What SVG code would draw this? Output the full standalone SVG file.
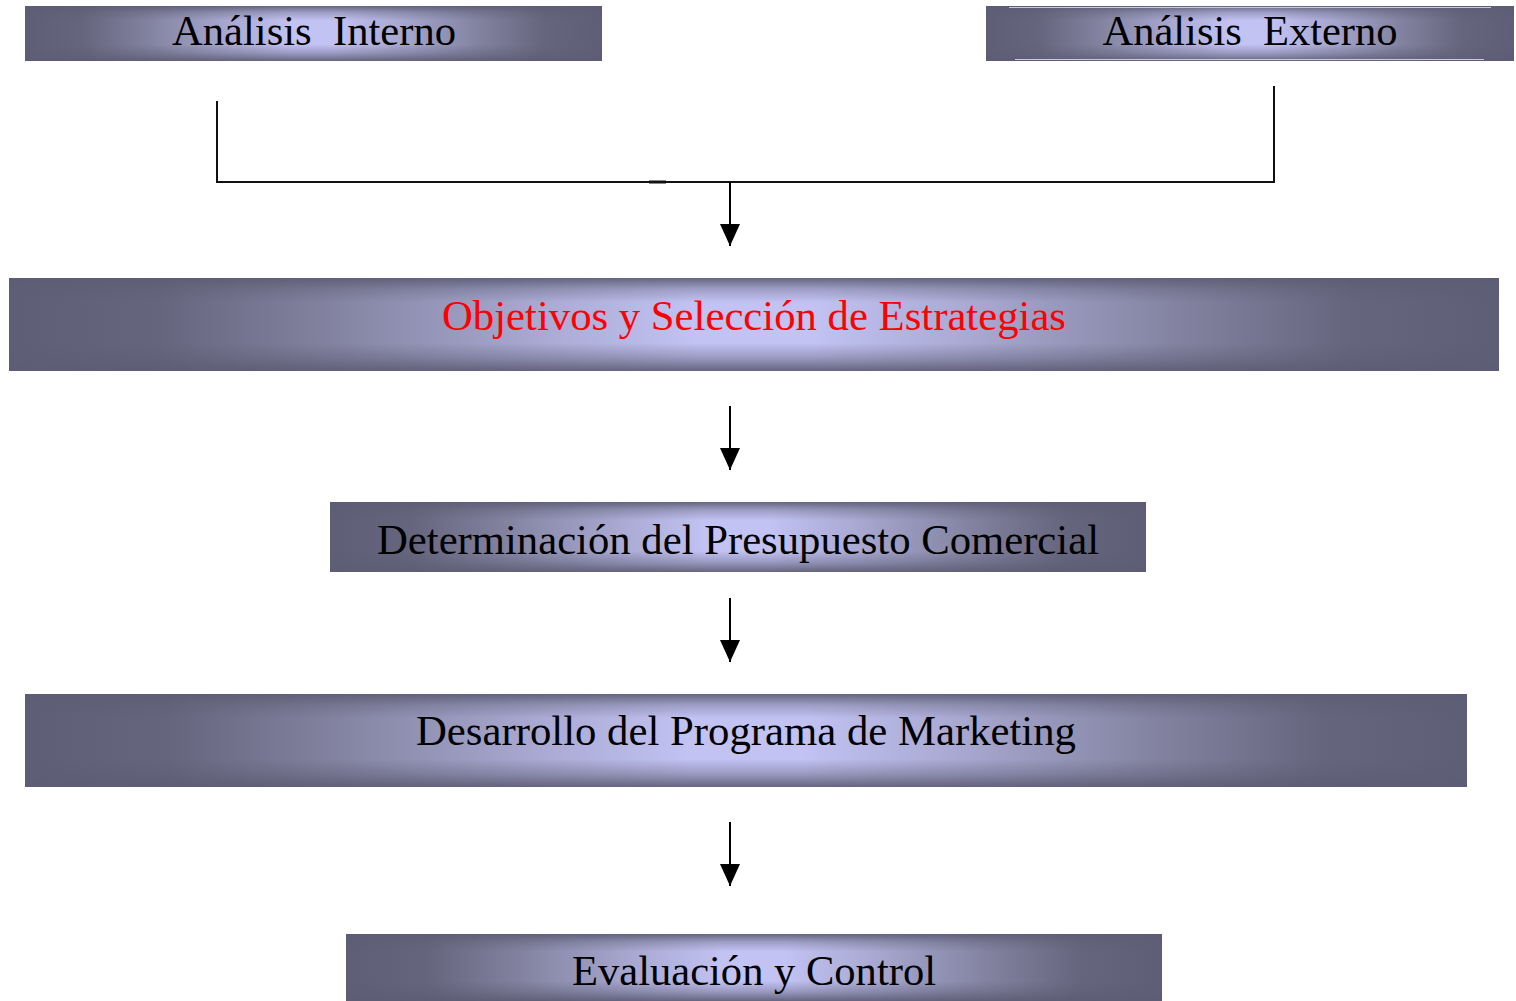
<svg xmlns="http://www.w3.org/2000/svg" width="1516" height="1001" viewBox="0 0 1516 1001">
  <style>
    .label { font-family: "Liberation Serif", "Times New Roman", serif; font-size: 42px; text-anchor: middle; fill: #000000; }
    .label.red { fill: #ff0000; }
    .shade { fill: url(#hband); }
    .rim { fill: url(#vband); }
    .wire { fill: none; stroke: #111111; stroke-width: 2; }
    .arrow { fill: none; stroke: #000000; stroke-width: 2; marker-end: url(#head); }
  </style>
  <defs>
    <!-- dark edges, pale lavender centre -->
    <linearGradient id="hband" x1="0" y1="0" x2="1" y2="0">
      <stop offset="0" stop-color="#5e5e76"/>
      <stop offset="0.1" stop-color="#65657e"/>
      <stop offset="0.22" stop-color="#8484a2"/>
      <stop offset="0.36" stop-color="#aaaad4"/>
      <stop offset="0.46" stop-color="#c2c2f3"/>
      <stop offset="0.54" stop-color="#c2c2f3"/>
      <stop offset="0.64" stop-color="#aaaad4"/>
      <stop offset="0.78" stop-color="#8484a2"/>
      <stop offset="0.9" stop-color="#65657e"/>
      <stop offset="1" stop-color="#5e5e76"/>
    </linearGradient>
    <!-- darker top and bottom rims -->
    <linearGradient id="vband" x1="0" y1="0" x2="0" y2="1">
      <stop offset="0" stop-color="#5c5c74" stop-opacity="0.9"/>
      <stop offset="0.12" stop-color="#5c5c74" stop-opacity="0.35"/>
      <stop offset="0.26" stop-color="#5c5c74" stop-opacity="0"/>
      <stop offset="0.7" stop-color="#5c5c74" stop-opacity="0"/>
      <stop offset="0.86" stop-color="#5c5c74" stop-opacity="0.4"/>
      <stop offset="1" stop-color="#5c5c74" stop-opacity="0.9"/>
    </linearGradient>
    <marker id="head" markerUnits="userSpaceOnUse" viewBox="0 0 22 20" markerWidth="22" markerHeight="20" refX="22" refY="10" orient="auto">
      <path d="M0,0 L22,10 L0,20 Z" fill="#000000"/>
    </marker>
  </defs>

  <g id="analisis-interno">
    <rect class="shade" x="25" y="6" width="577" height="55"/>
    <rect class="rim" x="25" y="6" width="577" height="55"/>
    <text class="label" x="314" y="45" textLength="284" lengthAdjust="spacingAndGlyphs" xml:space="preserve">Análisis  Interno</text>
  </g>

  <g id="analisis-externo">
    <rect class="shade" x="986" y="6" width="528" height="55"/>
    <rect class="rim" x="986" y="6" width="528" height="55"/>
    <line x1="1009" y1="7.5" x2="1491" y2="7.5" stroke="#c8c8e0" stroke-width="1"/>
    <line x1="1015" y1="59.5" x2="1484" y2="59.5" stroke="#c8c8e0" stroke-width="1"/>
    <text class="label" x="1250" y="45" textLength="295" lengthAdjust="spacingAndGlyphs" xml:space="preserve">Análisis  Externo</text>
  </g>

  <g id="objetivos">
    <rect class="shade" x="9" y="278" width="1490" height="93"/>
    <rect class="rim" x="9" y="278" width="1490" height="93"/>
    <text class="label red" x="754" y="330" textLength="624" lengthAdjust="spacingAndGlyphs">Objetivos y Selección de Estrategias</text>
  </g>

  <g id="presupuesto">
    <rect class="shade" x="330" y="502" width="816" height="70"/>
    <rect class="rim" x="330" y="502" width="816" height="70"/>
    <text class="label" x="738" y="554" textLength="722" lengthAdjust="spacingAndGlyphs">Determinación del Presupuesto Comercial</text>
  </g>

  <g id="programa">
    <rect class="shade" x="25" y="694" width="1442" height="93"/>
    <rect class="rim" x="25" y="694" width="1442" height="93"/>
    <text class="label" x="746" y="745" textLength="660" lengthAdjust="spacingAndGlyphs">Desarrollo del Programa de Marketing</text>
  </g>

  <g id="evaluacion">
    <rect class="shade" x="346" y="934" width="816" height="67"/>
    <rect class="rim" x="346" y="934" width="816" height="67"/>
    <text class="label" x="754" y="985" textLength="364" lengthAdjust="spacingAndGlyphs">Evaluación y Control</text>
  </g>

  <g id="connectors">
    <path class="wire" d="M217,101 V182 H1274 V86"/>
    <line x1="649" y1="182" x2="666" y2="182" stroke="#111111" stroke-width="3"/>
    <line class="arrow" x1="730" y1="182" x2="730" y2="246"/>
    <line class="arrow" x1="730" y1="406" x2="730" y2="470"/>
    <line class="arrow" x1="730" y1="598" x2="730" y2="662"/>
    <line class="arrow" x1="730" y1="822" x2="730" y2="886"/>
  </g>
</svg>
